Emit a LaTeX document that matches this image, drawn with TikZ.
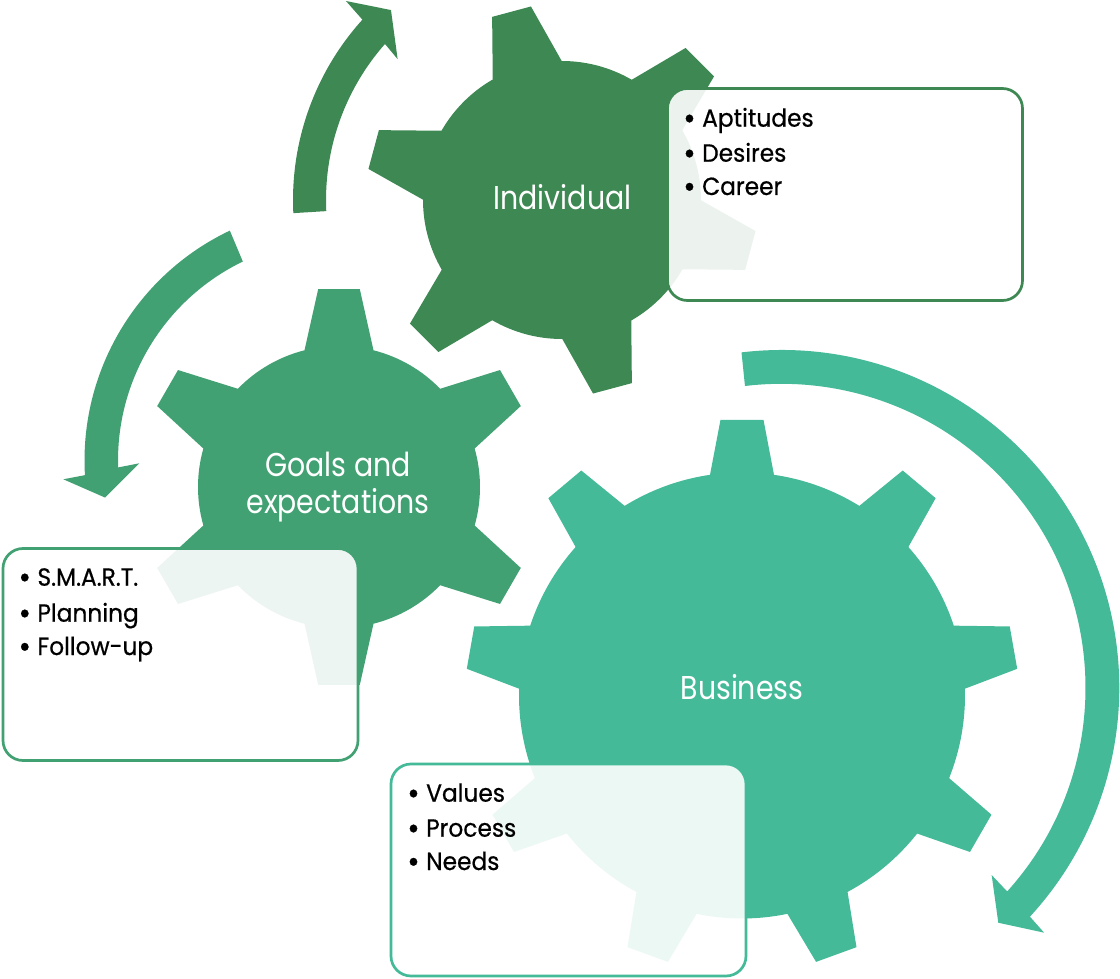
\documentclass[tikz,border=0pt]{standalone}
\usepackage{fontspec}
\setmainfont{Poppins}
\newfontfamily\labelface{Poppins}[FakeStretch=0.86]
\newfontfamily\itemface{Poppins}[FakeStretch=0.94, FakeBold=0.6]

\definecolor{indgreen}{HTML}{3E8853}
\definecolor{goalgreen}{HTML}{42A173}
\definecolor{busgreen}{HTML}{44BA98}

% gear outline: colour, centre x, centre y, teeth, first tooth angle,
% body radius, tip radius, half width at base, half width at tip
\newcommand{\cogwheel}[9]{%
  \pgfmathsetmacro{\cwbb}{asin(#8/#6)}%
  \pgfmathsetmacro{\cwbt}{asin(#9/#7)}%
  \pgfmathsetmacro{\cwstep}{360/#4}%
  \begin{scope}[shift={(#2,#3)}]
    \fill[#1] ({#5-\cwbb}:#6)
      foreach \k in {1,...,#4} {
        -- ({#5+(\k-1)*\cwstep-\cwbt}:#7)
        -- ({#5+(\k-1)*\cwstep+\cwbt}:#7)
        -- ({#5+(\k-1)*\cwstep+\cwbb}:#6)
        arc[start angle={#5+(\k-1)*\cwstep+\cwbb}, end angle={#5+\k*\cwstep-\cwbb}, radius=#6]
      } -- cycle;
  \end{scope}}

% one bullet line: name, left edge of the text, baseline, text
\newcommand{\bulletitem}[4]{%
  \node[itemdot] (#1-dot) at (#2-12.5,#3-2.5) {\textbullet};
  \node[itemtext] (#1) at (#2,#3) {#4};}

\tikzset{
  notebox/.style={draw, rounded corners=20pt, line width=2.7pt, fill=white,
    fill opacity=0.9, minimum width=355pt, minimum height=212pt, inner sep=0pt},
  geartext/.style={text=white, font=\labelface\fontsize{33}{37.6}\selectfont, inner sep=0pt},
  itemtext/.style={anchor=base west, inner sep=0pt, font=\itemface\fontsize{24.8}{30}\selectfont},
  itemdot/.style={anchor=base, inner sep=0pt, font=\itemface\fontsize{32}{32}\selectfont},
}

\begin{document}
\begin{tikzpicture}[x=1pt, y=1pt]
\useasboundingbox (0,0) rectangle (1120,-979);
\fill[white] (0,0) rectangle (1120,-979);

% circular arrows
\begin{scope}[shift={(562,-200)}]
  \fill[indgreen] (182.8:269) arc[start angle=182.8, end angle=137.9, radius=269]
    -- (137.35:293.7) -- (132:255.6) -- (139.4:216.5) -- (138.6:236)
    arc[start angle=138.6, end angle=182.7, radius=236] -- cycle;
\end{scope}
\begin{scope}[shift={(339,-460.5)}]
  \fill[goalgreen] (115.4:254.5) arc[start angle=115.4, end angle=183.3, radius=254.5]
    -- (183.9:276.3) -- (189.0:236.9) -- (180.8:199.7) -- (181.8:221)
    arc[start angle=181.8, end angle=115.8, radius=221] -- cycle;
\end{scope}
\begin{scope}[shift={(781.5,-687.8)}]
  \fill[busgreen] (96.8:337.8) arc[start angle=96.8, end angle=-42.65, radius=337.8]
    -- (-43.0:359) -- (-47.3:319.7) -- (-41.7:281.5) -- (-42.06:304)
    arc[start angle=-42.06, end angle=96.9, radius=304] -- cycle;
\end{scope}

% gears
\cogwheel{indgreen}{562}{-200}{6}{105}{139}{196}{35.7}{20.1}
\cogwheel{goalgreen}{339}{-487}{6}{90}{141}{199}{34.5}{20.8}
\cogwheel{busgreen}{742}{-695.5}{9}{90}{223}{276.5}{32}{21.5}

% gear labels
\node[geartext, anchor=base] (indlabel) at (562.5,-209.3) {Individual};
\node[geartext, align=center] (goallabel) at (338,-487) {Goals and\\expectations};
\node[geartext, anchor=base] (buslabel) at (742,-699.3) {Business};

% note boxes
\node[notebox, draw=indgreen] (indbox) at (845,-194.5) {};
\node[notebox, draw=goalgreen] (goalbox) at (180.5,-654.5) {};
\node[notebox, draw=busgreen] (busbox) at (568.5,-870) {};

% box contents
\bulletitem{ind1}{702}{-126.7}{Aptitudes}
\bulletitem{ind2}{702}{-161.7}{Desires}
\bulletitem{ind3}{702}{-195}{Career}
\bulletitem{goal1}{37.3}{-585.7}{S.M.A.R.T.}
\bulletitem{goal2}{37.3}{-621.7}{Planning}
\bulletitem{goal3}{37.3}{-655}{Follow-up}
\bulletitem{bus1}{426}{-801.7}{Values}
\bulletitem{bus2}{426}{-836.7}{Process}
\bulletitem{bus3}{426}{-870}{Needs}
\end{tikzpicture}
\end{document}
